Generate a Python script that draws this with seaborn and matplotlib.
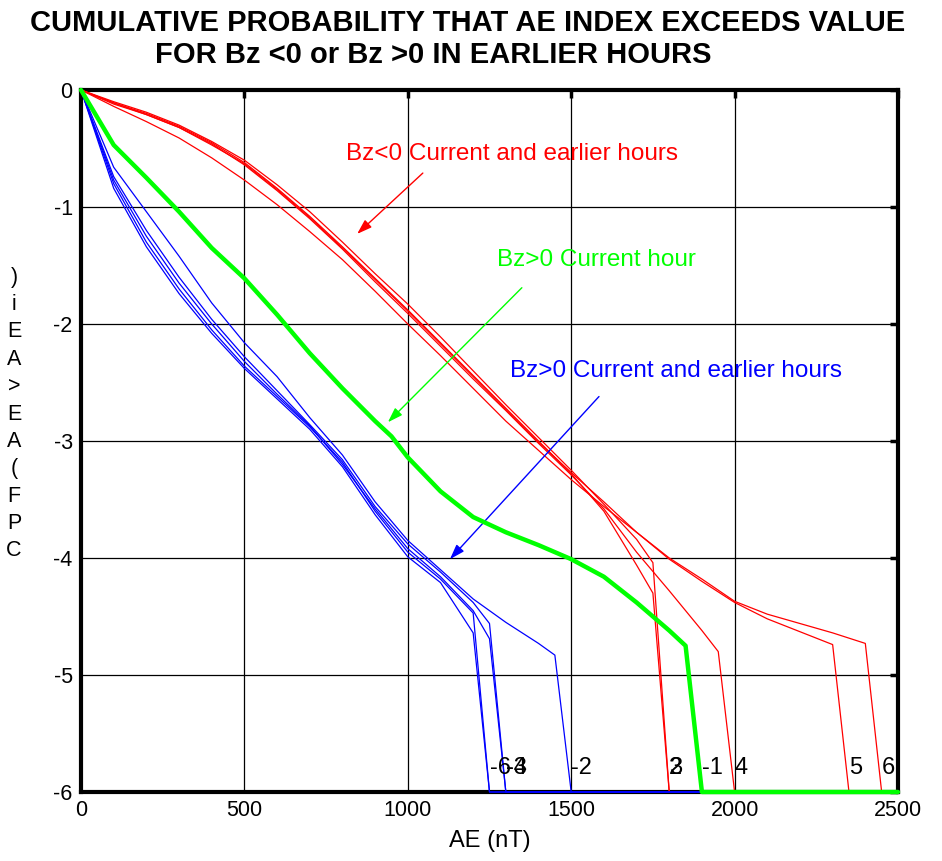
import matplotlib
matplotlib.use("Agg")
import matplotlib.pyplot as plt
import pandas as pd
import seaborn as sns

sns.set_style("white")
plt.rcParams['font.family'] = ['Liberation Sans', 'DejaVu Sans']
plt.rcParams['axes.unicode_minus'] = False
plt.rcParams['text.color'] = 'black'
plt.rcParams['axes.labelcolor'] = 'black'
plt.rcParams['xtick.color'] = 'black'
plt.rcParams['ytick.color'] = 'black'

# ---------------- data (log10 cumulative probability) ----------------
grid_ae = [0, 100, 200, 300, 400, 500, 600, 700, 800, 900, 1000, 1100, 1200, 1300, 1400, 1500, 1600]

# Bz<0, current and earlier hours (red)
red2_ae = grid_ae + [1700, 1750, 1800, 2500]
red2_lp = [0, -0.10, -0.19, -0.30, -0.44, -0.60, -0.81, -1.04, -1.30, -1.57, -1.83, -2.11, -2.40, -2.69, -2.97, -3.25, -3.54,
           -3.84, -4.04, -6, -6]
red3_ae = grid_ae + [1700, 1750, 1800, 2500]
red3_lp = [0, -0.11, -0.20, -0.31, -0.45, -0.62, -0.84, -1.08, -1.34, -1.61, -1.88, -2.16, -2.44, -2.72, -3.00, -3.28, -3.60,
           -4.06, -4.30, -6, -6]
red4_ae = grid_ae + [1700, 1800, 1900, 1950, 2000, 2500]
red4_lp = [0, -0.12, -0.21, -0.32, -0.46, -0.64, -0.86, -1.10, -1.36, -1.64, -1.91, -2.19, -2.47, -2.74, -3.02, -3.29, -3.58,
           -3.95, -4.28, -4.62, -4.80, -6, -6]
red5_ae = grid_ae + [1700, 1800, 1900, 2000, 2100, 2200, 2300, 2350, 2500]
red5_lp = [0, -0.11, -0.21, -0.32, -0.47, -0.63, -0.85, -1.09, -1.35, -1.62, -1.89, -2.17, -2.45, -2.73, -3.01, -3.27, -3.52,
           -3.78, -4.01, -4.20, -4.38, -4.52, -4.63, -4.74, -6, -6]
red6_ae = grid_ae + [1700, 1800, 1900, 2000, 2100, 2200, 2300, 2400, 2450, 2500]
red6_lp = [0, -0.14, -0.27, -0.41, -0.58, -0.77, -0.98, -1.21, -1.45, -1.72, -2.00, -2.27, -2.55, -2.83, -3.08, -3.33, -3.56,
           -3.78, -4.00, -4.18, -4.37, -4.48, -4.56, -4.64, -4.73, -6, -6]

# Bz>0, current and earlier hours (blue)
blue_grid = [0, 100, 200, 300, 400, 500, 600, 700, 800, 900, 1000, 1100, 1200]
blue6_ae = blue_grid + [1250, 2500]
blue6_lp = [0, -0.80, -1.30, -1.70, -2.05, -2.36, -2.62, -2.88, -3.18, -3.60, -3.95, -4.18, -4.47, -6, -6]
blue5_ae = blue_grid + [1250, 2500]
blue5_lp = [0, -0.84, -1.34, -1.74, -2.08, -2.38, -2.64, -2.90, -3.22, -3.63, -3.99, -4.21, -4.64, -6, -6]
blue4_ae = blue_grid + [1250, 1300, 2500]
blue4_lp = [0, -0.74, -1.20, -1.60, -1.96, -2.28, -2.57, -2.86, -3.16, -3.56, -3.88, -4.12, -4.38, -4.56, -6, -6]
blue3_ae = blue_grid + [1250, 1300, 2500]
blue3_lp = [0, -0.77, -1.25, -1.65, -2.00, -2.32, -2.60, -2.87, -3.20, -3.58, -3.92, -4.16, -4.45, -4.69, -6, -6]
blue2_ae = blue_grid + [1300, 1400, 1450, 1500, 2500]
blue2_lp = [0, -0.66, -1.04, -1.42, -1.82, -2.16, -2.45, -2.80, -3.12, -3.52, -3.85, -4.10, -4.35, -4.55, -4.73, -4.83, -6, -6]

# Bz>0, current hour (green)
green_ae = [0, 100, 200, 300, 400, 500, 600, 700, 800, 900, 950, 1000, 1100, 1200, 1300, 1400, 1500, 1600, 1700, 1800, 1850, 1900, 2500]
green_lp = [0, -0.47, -0.75, -1.04, -1.35, -1.61, -1.92, -2.25, -2.55, -2.83, -2.96, -3.14, -3.43, -3.65, -3.78, -3.89, -4.01,
            -4.16, -4.38, -4.62, -4.75, -6, -6]

# curve end labels (text, AE where it is written) - overlapping as in the original
end_labels = [("2", 1800), ("3", 1800), ("4", 2000), ("5", 2350), ("6", 2450),
              ("-6", 1250), ("-3", 1300), ("-4", 1300), ("-2", 1500), ("-1", 1900)]

x_ticks = [0, 500, 1000, 1500, 2000, 2500]
y_ticks = [0, -1, -2, -3, -4, -5, -6]

# ---------------- build long table ----------------
rows = []
def add(group, hour, ae, lp):
    for a, v in zip(ae, lp):
        rows.append(dict(group=group, hour=hour, AE=a, logp=v))

add("red", 2, red2_ae, red2_lp)
add("red", 3, red3_ae, red3_lp)
add("red", 4, red4_ae, red4_lp)
add("red", 5, red5_ae, red5_lp)
add("red", 6, red6_ae, red6_lp)
add("blue", -6, blue6_ae, blue6_lp)
add("blue", -5, blue5_ae, blue5_lp)
add("blue", -4, blue4_ae, blue4_lp)
add("blue", -3, blue3_ae, blue3_lp)
add("blue", -2, blue2_ae, blue2_lp)
add("green", -1, green_ae, green_lp)
df = pd.DataFrame(rows)

fig = plt.figure(figsize=(9.42, 8.61), dpi=100)
ax = fig.add_axes([81/942, 1-792/861, (898-81)/942, (792-90)/861])

styles = [("red", "#ff0000", 0.9, 3), ("blue", "#0000ff", 0.9, 4), ("green", "#00ff00", 3.2, 5)]
for grp, col, lw, z in styles:
    n0 = len(ax.lines)
    sns.lineplot(data=df[df.group == grp], x="AE", y="logp", units="hour", estimator=None,
                 sort=False, color=col, lw=lw, ax=ax, legend=False)
    for ln in ax.lines[n0:]:
        ln.set_zorder(z)
        ln.set_clip_on(False)

ax.set_xlim(0, 2500)
ax.set_ylim(-6, 0)
ax.set_xticks(x_ticks)
ax.set_yticks(y_ticks)
ax.set_xticklabels([str(t) for t in x_ticks])
ax.set_yticklabels([str(t) for t in y_ticks])
ax.grid(True, color="black", lw=0.9)
ax.set_axisbelow(True)
for s in ax.spines.values():
    s.set_linewidth(3)
    s.set_color("black")
ax.tick_params(direction="in", length=6, width=2.5, top=True, right=True,
               labelsize=15.5, pad=6, colors="black")
ax.set_xlabel("AE (nT)", fontsize=17, labelpad=6, color="black")
ax.set_ylabel("")

for txt, xa in end_labels:
    ax.text(xa, -5.85, txt, fontsize=17, ha="left", va="baseline", color="black", zorder=6)

# annotations
ax.text(811, -0.6, "Bz<0 Current and earlier hours", color="#ff0000", fontsize=17.5, va="baseline")
ax.text(1273, -1.5, "Bz>0 Current hour", color="#00ff00", fontsize=17.5, va="baseline")
ax.text(1313, -2.45, "Bz>0 Current and earlier hours", color="#0000ff", fontsize=17.5, va="baseline")
arrow_kw = dict(arrowstyle="-|>,head_length=0.9,head_width=0.3", lw=1, shrinkA=0, shrinkB=0)
ax.annotate("", xy=(845, -1.23), xytext=(1046, -0.71), arrowprops=dict(color="#ff0000", **arrow_kw))
ax.annotate("", xy=(939, -2.84), xytext=(1349, -1.69), arrowprops=dict(color="#00ff00", **arrow_kw))
ax.annotate("", xy=(1129, -4.01), xytext=(1585, -2.62), arrowprops=dict(color="#0000ff", **arrow_kw))

# title
fig.text(30/942, 1-31/861, "CUMULATIVE PROBABILITY THAT AE INDEX EXCEEDS VALUE",
         fontsize=21, fontweight="bold", ha="left", va="baseline", color="black")
fig.text(155/942, 1-63/861, "FOR Bz <0 or Bz >0 IN EARLIER HOURS",
         fontsize=21, fontweight="bold", ha="left", va="baseline", color="black")

# stacked y label
fig.text(14/942, 1-414/861, "\n".join(list(")iEA>EA(FPC")), fontsize=15.5,
         ha="center", va="center", linespacing=1.4, color="black")

fig.savefig("out.png", dpi=100)
